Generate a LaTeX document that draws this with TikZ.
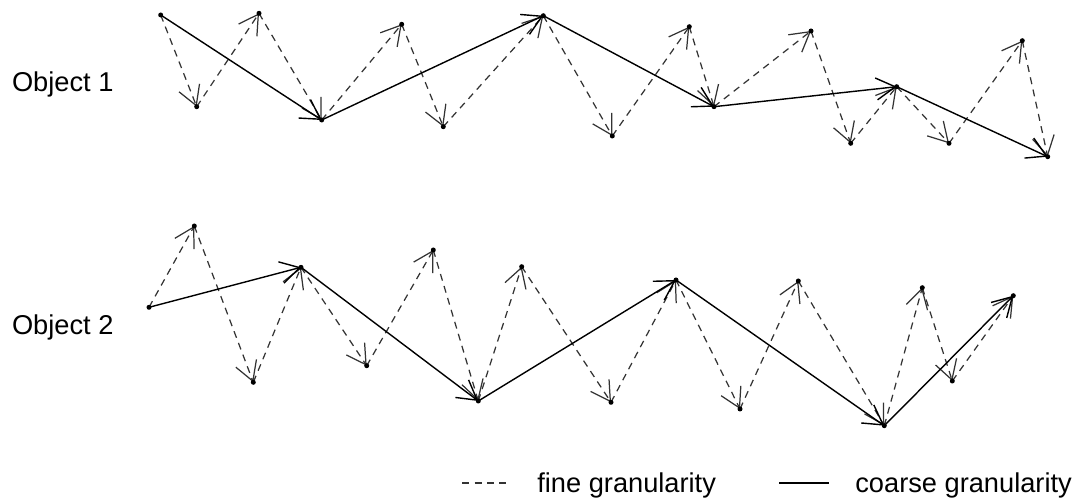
\documentclass[tikz,border=0pt]{standalone}
\usepackage{fontspec}
\setmainfont{Liberation Sans}
\usetikzlibrary{arrows.meta}

\begin{document}
\begin{tikzpicture}[x=0.02cm, y=-0.02cm,
  fine/.style={draw=black!80, line width=0.7pt, dash pattern=on 0.14cm off 0.11cm, -{Straight Barb[angle=60:0.44cm]}},
  coarse/.style={draw=black, line width=0.8pt, -{Straight Barb[angle=60:0.44cm]}},
  lbl/.style={anchor=base west, inner sep=0pt, font=\fontsize{15.5}{18}\selectfont}]
\useasboundingbox (0,0) rectangle (1075,502);
% object 1
\coordinate (a1) at (160.7,15);   \coordinate (a2) at (196.7,106.7);
\coordinate (a3) at (259,13.3);   \coordinate (a4) at (321.7,120);
\coordinate (a5) at (401.7,24.3); \coordinate (a6) at (443.3,126.7);
\coordinate (a7) at (543.3,15.7); \coordinate (a8) at (612.3,136);
\coordinate (a9) at (689.3,26.7); \coordinate (a10) at (714,106.7);
\coordinate (a11) at (811,31);    \coordinate (a12) at (850.7,143.3);
\coordinate (a13) at (896.7,86.7); \coordinate (a14) at (949,143.3);
\coordinate (a15) at (1022.3,40.7); \coordinate (a16) at (1047.7,156.7);
% object 2
\coordinate (b1) at (149,307.3);  \coordinate (b2) at (194.3,226);
\coordinate (b3) at (253.3,382.3); \coordinate (b4) at (301,267.3);
\coordinate (b5) at (366.7,365.7); \coordinate (b6) at (433.3,250);
\coordinate (b7) at (478.3,401);  \coordinate (b8) at (521.7,266.7);
\coordinate (b9) at (611,402.3);  \coordinate (b10) at (676,280);
\coordinate (b11) at (740,409);   \coordinate (b12) at (798.3,281);
\coordinate (b13) at (884.3,425.7); \coordinate (b14) at (922.3,287.7);
\coordinate (b15) at (952.3,381); \coordinate (b16) at (1013.3,295.7);

\node[lbl] (obj1) at (11.7,91.7) {Object 1};
\node[lbl] (obj2) at (11.7,335) {Object 2};

\foreach \i [evaluate=\i as \j using int(\i+1)] in {1,...,15} {
  \draw[fine] (a\i) -- (a\j);
  \draw[fine] (b\i) -- (b\j);
}
\foreach \i/\j in {1/4,4/7,7/10,10/13,13/16} {
  \draw[coarse] (a\i) -- (a\j);
  \draw[coarse] (b\i) -- (b\j);
}
\foreach \i in {1,...,16} {
  \fill (a\i) circle[radius=0.05cm];
  \fill (b\i) circle[radius=0.05cm];
}

% legend
\coordinate (lf1) at (462,483); \coordinate (lf2) at (510,483);
\coordinate (lc1) at (779,483); \coordinate (lc2) at (829,483);
\draw[draw=black!80, line width=0.7pt, dash pattern=on 0.14cm off 0.11cm] (lf1) -- (lf2);
\draw[line width=0.8pt] (lc1) -- (lc2);
\node[lbl] (finetxt) at (537,493) {fine granularity};
\node[lbl] (coarsetxt) at (855,493) {coarse granularity};
\end{tikzpicture}
\end{document}
